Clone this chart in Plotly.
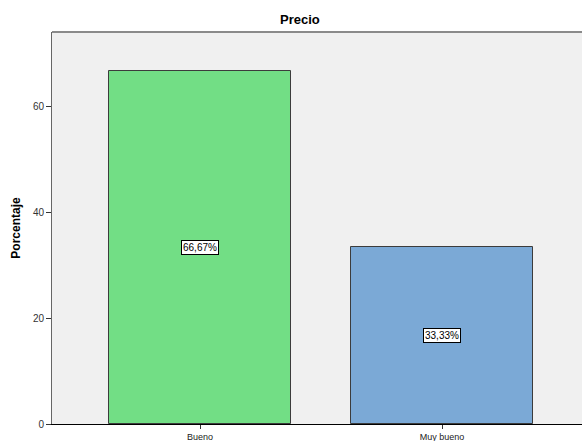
import plotly.graph_objects as go

categories = ["Bueno", "Muy bueno"]
values = [66.67, 33.33]
bar_colors = ["#72DE85", "#7BA9D6"]
y_ticks = [0, 20, 40, 60]

W, H = 582, 441
ML, MR, MT, MB = 52, 0, 32, 17

fig = go.Figure()
fig.add_trace(go.Bar(
    x=[0, 1], y=values,
    width=0.752,
    marker=dict(color=bar_colors, line=dict(color="#3C3C3C", width=1)),
    hoverinfo="skip",
))

for i, v in enumerate(values):
    fig.add_annotation(
        x=i, y=v / 2, xref="x", yref="y",
        text=f"{v:.2f}".replace(".", ",") + "%",
        showarrow=False,
        font=dict(family="Arial, Liberation Sans", size=10, color="black"),
        bgcolor="white", bordercolor="black", borderwidth=1, borderpad=1,
    )

fig.add_annotation(
    x=(300 - ML) / (W - ML - MR), y=1, xref="paper", yref="paper",
    yanchor="bottom", yshift=3,
    text="<b>Precio</b>", showarrow=False,
    font=dict(family="Arial, Liberation Sans", size=13, color="black"),
)

fig.add_shape(type="line", xref="paper", yref="paper", x0=0, x1=1, y0=1, y1=1,
              line=dict(color="#8A8A8A", width=2))

fig.update_layout(
    width=W, height=H,
    margin=dict(l=ML, r=MR, t=MT, b=MB),
    paper_bgcolor="white", plot_bgcolor="#F0F0F0",
    showlegend=False,
    bargap=0,
    xaxis=dict(
        range=[-0.612, (W - ML - MR) / 242 - 0.612],
        tickmode="array", tickvals=[0, 1], ticktext=categories,
        ticks="outside", ticklen=4, tickcolor="#333333", tickwidth=1,
        showline=True, linecolor="black", linewidth=1,
        showgrid=False, zeroline=False,
        tickfont=dict(family="Arial, Liberation Sans", size=9, color="#222222"),
    ),
    yaxis=dict(
        range=[0, 74],
        tickmode="array", tickvals=y_ticks,
        ticks="outside", ticklen=5, tickcolor="#333333", tickwidth=1,
        showline=True, linecolor="#666666", linewidth=1,
        showgrid=False, zeroline=False,
        tickfont=dict(family="Arial, Liberation Sans", size=10, color="#333333"),
        title=dict(text="<b>Porcentaje</b>", standoff=9,
                   font=dict(family="Arial, Liberation Sans", size=12, color="black")),
    ),
)

fig.write_html(
    "out.html",
    config={"displayModeBar": False},
    post_script="document.body.style.margin='0';document.body.style.overflow='hidden';",
)
